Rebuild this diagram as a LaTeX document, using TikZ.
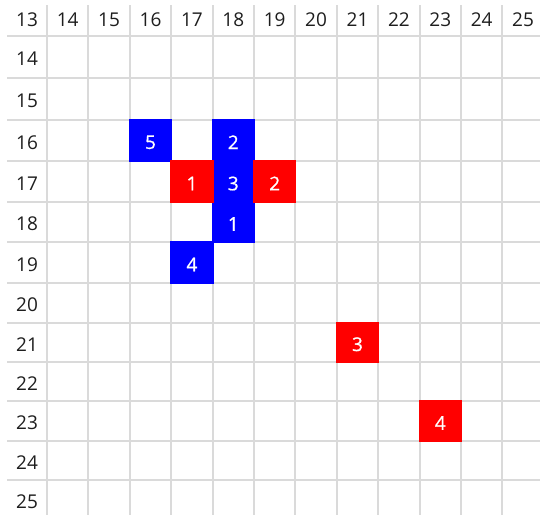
\documentclass[tikz,border=0pt]{standalone}
\usepackage{fontspec}
\setmainfont{Open Sans}
\newfontfamily\cellfont[FakeBold=0.8]{Open Sans}
\definecolor{gridgray}{HTML}{DADADA}
\definecolor{cellblue}{HTML}{0000FF}
\definecolor{cellred}{HTML}{FF0000}
\definecolor{labelgray}{HTML}{1E1E1E}
\tikzset{
  gridline/.style={draw=gridgray, line width=2pt},
  lbl/.style={font=\fontsize{19}{22}\selectfont, text=labelgray, inner sep=0pt},
  celltxt/.style={font=\cellfont\fontsize{19}{22}\selectfont, text=white, inner sep=0pt},
}
\begin{document}
\begin{tikzpicture}[x=1pt,y=-1pt]
\useasboundingbox (0,0) rectangle (547,515);
\fill[white] (0,0) rectangle (547,515);
% grid
\foreach \k in {0,...,11}
  \draw[gridline] ({47+41.4*\k},5) -- ({47+41.4*\k},515);
\foreach \h in {36,78,119.5,161,202,242,283,322.5,362,401,441,480}
  \draw[gridline] (7,\h) -- (540,\h);
% coloured cells
\foreach \nm/\xa/\ya/\xb/\yb/\cl/\tx in {
  b5/129.8/119.5/171.2/161/cellblue/5,
  b2/212.6/119.5/254/161/cellblue/2,
  b3/212.6/161/254/202/cellblue/3,
  b1/212.6/202/254/242/cellblue/1,
  b4/171.2/242/212.6/283/cellblue/4,
  r1/171.2/161/212.6/202/cellred/1,
  r2/254/161/295.4/202/cellred/2,
  r3/336.8/322.5/378.2/362/cellred/3,
  r4/419.6/401/461/441/cellred/4}{
  \fill[\cl] (\xa-1,\ya-1) rectangle (\xb+1,\yb+1);
  \node[celltxt] (\nm) at ({(\xa+\xb)/2},{(\ya+\yb)/2+2}) {\tx};
}
% header labels
\node[lbl] (h13) at (27,19.5) {13};
\foreach \c [evaluate=\c as \xc using 67.7+41.4*(\c-14)] in {14,...,25}
  \node[lbl] (h\c) at (\xc,19.5) {\c};
% row labels
\foreach \r/\yc in {14/57,15/98.75,16/140.25,17/181.5,18/222,19/262.5,20/302.75,21/342.25,22/381.5,23/421,24/460.5,25/500}
  \node[lbl] (v\r) at (27,\yc+2) {\r};
\end{tikzpicture}
\end{document}
